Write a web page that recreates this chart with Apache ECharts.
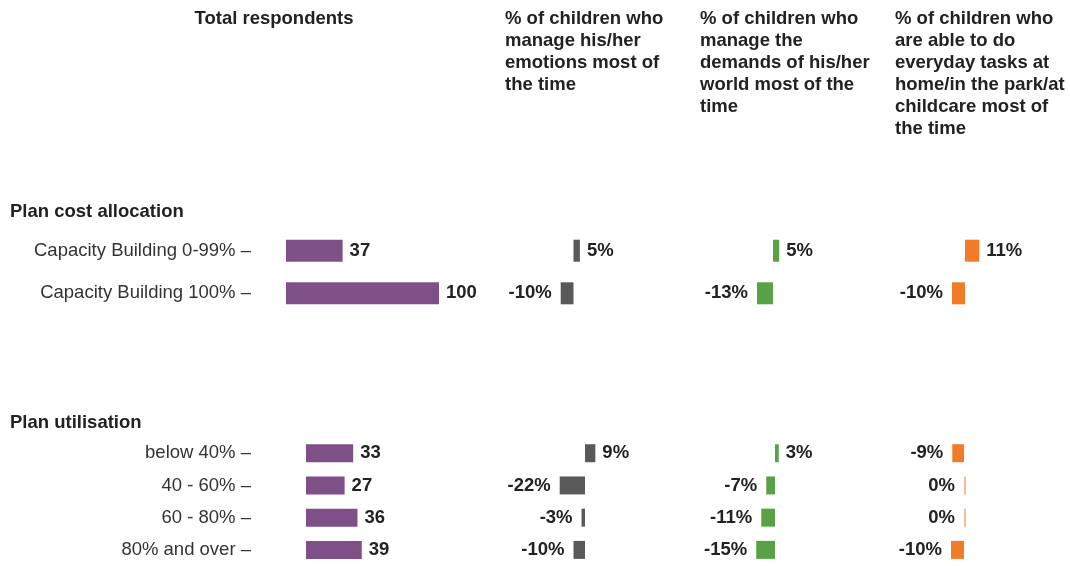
<!DOCTYPE html>
<html><head><meta charset="utf-8">
<script src="https://cdn.jsdelivr.net/npm/echarts@6/dist/echarts.min.js"></script>
<style>html,body{margin:0;padding:0;background:#fff}#c{width:1070px;height:566px}</style>
</head><body><div id="c"></div>
<script>
// ---------------- data ----------------
const groupNames = ['Plan cost allocation', 'Plan utilisation'];
const cats1 = ['Capacity Building 0-99%', 'Capacity Building 100%'];
const cats2 = ['below 40%', '40 - 60%', '60 - 80%', '80% and over'];
const respondents1 = [37, 100];
const respondents2 = [33, 27, 36, 39];
const emotions1 = [5, -10];
const emotions2 = [9, -22, -3, -10];
const demands1 = [5, -13];
const demands2 = [3, -7, -11, -15];
const tasks1 = [11, -10];
const tasks2 = [-9, 0, 0, -10];
const panelHeaders = [
  'Total respondents',
  '% of children who\nmanage his/her\nemotions most of\nthe time',
  '% of children who\nmanage the\ndemands of his/her\nworld most of the\ntime',
  '% of children who\nare able to do\neveryday tasks at\nhome/in the park/at\nchildcare most of\nthe time'
];
const panelUnits = ['', '%', '%', '%'];

// ---------------- layout / style ----------------
const FONT = '"Liberation Sans", Arial, sans-serif';
const FS = 18.5;
const colors = ['#7f4f87', '#595959', '#58a144', '#f37a26'];
const zeroColors = ['#c0a6c4', '#adadad', '#abd0a1', '#f9bd93'];
const groupCats = [cats1, cats2];
const groupData = [
  [respondents1, emotions1, demands1, tasks1],
  [respondents2, emotions2, demands2, tasks2]
];
const groupLayout = [
  { top: 229.4, band: 42.6, barW: 22, labelRight: 251, headY: 201 },
  { top: 437.1, band: 33.2, barW: 18, labelRight: 251, headY: 412 }
];
// per panel, per group: zero position, px per unit, axis range
const panelScales = [
  [{ x0: 286, s: 1.53, min: 0, max: 100 }, { x0: 306, s: 1.43, min: 0, max: 40 }],
  [{ x0: 573.5, s: 1.28, min: -10, max: 5 }, { x0: 585, s: 1.15, min: -22, max: 9 }],
  [{ x0: 773, s: 1.23, min: -13, max: 5 }, { x0: 775, s: 1.25, min: -15, max: 3 }],
  [{ x0: 965, s: 1.3, min: -10, max: 11 }, { x0: 964, s: 1.3, min: -10, max: 0 }]
];
const headerPos = [
  { x: 274, align: 'center' }, { x: 505, align: 'left' }, { x: 700, align: 'left' }, { x: 895, align: 'left' }
];

const grid = [], xAxis = [], yAxis = [], series = [];
let idx = 0;
for (let g = 0; g < 2; g++) {
  const L = groupLayout[g];
  const cats = groupCats[g];
  for (let p = 0; p < 4; p++) {
    const sc = panelScales[p][g];
    const left = sc.x0 + sc.min * sc.s;
    grid.push({ left: left, top: L.top, width: (sc.max - sc.min) * sc.s, height: L.band * cats.length, containLabel: false });
    xAxis.push({ type: 'value', gridIndex: idx, min: sc.min, max: sc.max, show: false });
    const ya = { type: 'category', gridIndex: idx, data: cats, inverse: true };
    if (p === 0) {
      Object.assign(ya, {
        show: true,
        axisLine: { show: false },
        axisTick: { show: false },
        axisLabel: {
          margin: left - L.labelRight, fontFamily: FONT, fontSize: FS, color: '#333',
          formatter: (v) => v + ' \u2013'
        },
        splitLine: { show: false }
      });
    } else {
      ya.show = false;
    }
    yAxis.push(ya);
    const unit = panelUnits[p];
    series.push({
      type: 'bar',
      xAxisIndex: idx, yAxisIndex: idx,
      barWidth: L.barW,
      barMinHeight: 2,
      clip: false,
      silent: true,
      itemStyle: { color: colors[p] },
      label: {
        show: true, fontFamily: FONT, fontSize: FS, fontWeight: 'bold', color: '#222',
        formatter: (d) => d.value + unit
      },
      data: groupData[g][p].map(v => ({
        value: v,
        itemStyle: v === 0 ? { color: zeroColors[p] } : undefined,
        label: { position: v > 0 ? 'right' : 'left', distance: v > 0 ? 7 : 9 }
      }))
    });
    idx++;
  }
}

const graphic = [];
panelHeaders.forEach((t, i) => {
  graphic.push({
    type: 'text', x: headerPos[i].x, y: 8,
    style: { text: t, font: 'bold ' + FS + 'px ' + FONT, fill: '#222', textAlign: headerPos[i].align, textVerticalAlign: 'top', lineHeight: 22 }
  });
});
groupNames.forEach((t, g) => {
  graphic.push({
    type: 'text', x: 10, y: groupLayout[g].headY,
    style: { text: t, font: 'bold ' + FS + 'px ' + FONT, fill: '#222', textAlign: 'left', textVerticalAlign: 'top', lineHeight: 22 }
  });
});

const chart = echarts.init(document.getElementById('c'), null, { renderer: 'canvas' });
chart.setOption({
  animation: false,
  backgroundColor: '#fff',
  grid, xAxis, yAxis, series, graphic
});
</script></body></html>
